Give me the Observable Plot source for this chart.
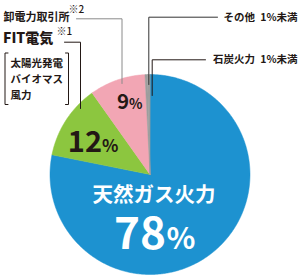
<!DOCTYPE html>
<html><head><meta charset="utf-8">
<script src="https://cdn.jsdelivr.net/npm/d3@7"></script>
<script src="https://cdn.jsdelivr.net/npm/@observablehq/plot@0.6"></script>
<style>
html,body{margin:0;padding:0;background:#fff}
#chart svg{display:block}
</style>
</head><body><div id="chart"></div>
<script>
// ---- data ----
const sources = ["天然ガス火力", "FIT電気", "卸電力取引所", "その他", "石炭火力"];
const shares = [78, 12, 9, 0.4, 0.4];
const shareLabels = ["78", "12", "9", "1%未満", "1%未満"];
const colors = ["#1d92d0", "#8cc63f", "#f2a6b4", "#9d9d9d", "#9d9d9d"];
const fitBreakdown = ["太陽光発電", "バイオマス", "風力"];
const notes = ["※1", "※2"];

// ---- layout ----
const W = 300, H = 280, cx = 149.5, cy = 174, R = 100;
const ink = "#231815";
const font = "'Noto Sans CJK JP', 'Noto Sans', sans-serif";

const rows = sources.map((s, i) => ({source: s, share: shares[i], color: colors[i]}));
const arcs = d3.pie().sort(null).value(d => d.share)(rows);
const piePts = arcs.flatMap(a => {
  const n = Math.max(2, Math.ceil((a.endAngle - a.startAngle) / 0.01));
  const pts = [{x: cx, y: cy, source: a.data.source, color: a.data.color}];
  for (let k = 0; k <= n; k++) {
    const t = a.startAngle + (a.endAngle - a.startAngle) * k / n;
    pts.push({x: cx + R * Math.sin(t), y: cy - R * Math.cos(t), source: a.data.source, color: a.data.color});
  }
  return pts;
});

// leader lines (label side → slice)
const leaders = [
  {id: "wholesale", color: "#8a8a8a", pts: [[76, 18.3], [121.5, 18.3], [121.5, 83]]},
  {id: "fit", color: ink, pts: [[64, 41.7], [80, 41.7], [80, 108]]},
  {id: "other", color: "#333", pts: [[217, 16.7], [148.3, 16.7], [148.3, 84]]},
  {id: "coal", color: ink, pts: [[205, 59.3], [151.7, 59.3], [151.7, 95]]},
  {id: "bracketL", color: ink, pts: [[7.5, 52.5], [4.5, 52.5], [4.5, 104], [7.5, 104]]},
  {id: "bracketR", color: ink, pts: [[65, 52.5], [68, 52.5], [68, 104], [65, 104]]}
];
const leaderPts = leaders.flatMap(l => l.pts.map(([x, y]) => ({x, y, id: l.id, color: l.color})));

const txt = (data, o) => Plot.text(data, {fontFamily: font, fontWeight: 700, ...o});

const chart = Plot.plot({
  width: W, height: H, margin: 0,
  style: {background: "#fff"},
  x: {domain: [0, W], range: [0, W], axis: null},
  y: {domain: [0, H], range: [0, H], axis: null},
  color: {type: "identity"},
  marks: [
    Plot.line(piePts, {x: "x", y: "y", z: "source", fill: "color", stroke: "color", strokeWidth: 0.5, curve: "linear-closed"}),
    Plot.line(leaderPts, {x: "x", y: "y", z: "id", stroke: "color", strokeWidth: 1, curve: "linear"}),
    // slice value labels
    txt([sources[0]], {x: 153.5, y: 201.5, text: d => d, fill: "#fff", fontSize: 20.5, lineAnchor: "bottom"}),
    txt([shareLabels[0]], {x: 165.5, y: 248, text: d => d, fill: "#fff", fontSize: 44, textAnchor: "end", lineAnchor: "bottom"}),
    txt(["%"], {x: 166, y: 248, text: d => d, fill: "#fff", fontSize: 30, textAnchor: "start", lineAnchor: "bottom"}),
    txt([shareLabels[1]], {x: 101.5, y: 151.5, text: d => d, fill: ink, fontSize: 29, textAnchor: "end", lineAnchor: "bottom"}),
    txt(["%"], {x: 101.5, y: 151.5, text: d => d, fill: ink, fontSize: 17, textAnchor: "start", lineAnchor: "bottom"}),
    txt([shareLabels[2]], {x: 128.5, y: 108, text: d => d, fill: ink, fontSize: 20.5, textAnchor: "end", lineAnchor: "bottom"}),
    txt(["%"], {x: 128.5, y: 108, text: d => d, fill: ink, fontSize: 14, textAnchor: "start", lineAnchor: "bottom"}),
    // outside labels
    txt([sources[2]], {x: 3, y: 17, text: d => d, fill: ink, fontSize: 11, textAnchor: "start"}),
    txt([notes[1]], {x: 68, y: 9.5, text: d => d, fill: ink, fontSize: 10, fontWeight: 500, textAnchor: "start"}),
    txt([sources[1]], {x: 2.5, y: 38.5, text: d => d, fill: ink, fontSize: 14, fontWeight: 900, textAnchor: "start"}),
    txt([notes[0]], {x: 56, y: 31.5, text: d => d, fill: ink, fontSize: 10, fontWeight: 500, textAnchor: "start"}),
    txt(fitBreakdown, {x: 10, y: (d, i) => 63 + i * 16, text: d => d, fill: ink, fontSize: 10.5, textAnchor: "start"}),
    txt([`${sources[3]}\u2002${shareLabels[3]}`], {x: 297, y: 16.7, text: d => d, fill: ink, fontSize: 10.5, textAnchor: "end"}),
    txt([`${sources[4]}\u2002${shareLabels[4]}`], {x: 297, y: 59.3, text: d => d, fill: ink, fontSize: 10.5, textAnchor: "end"})
  ]
});
document.getElementById("chart").append(chart);
</script>
</body></html>
